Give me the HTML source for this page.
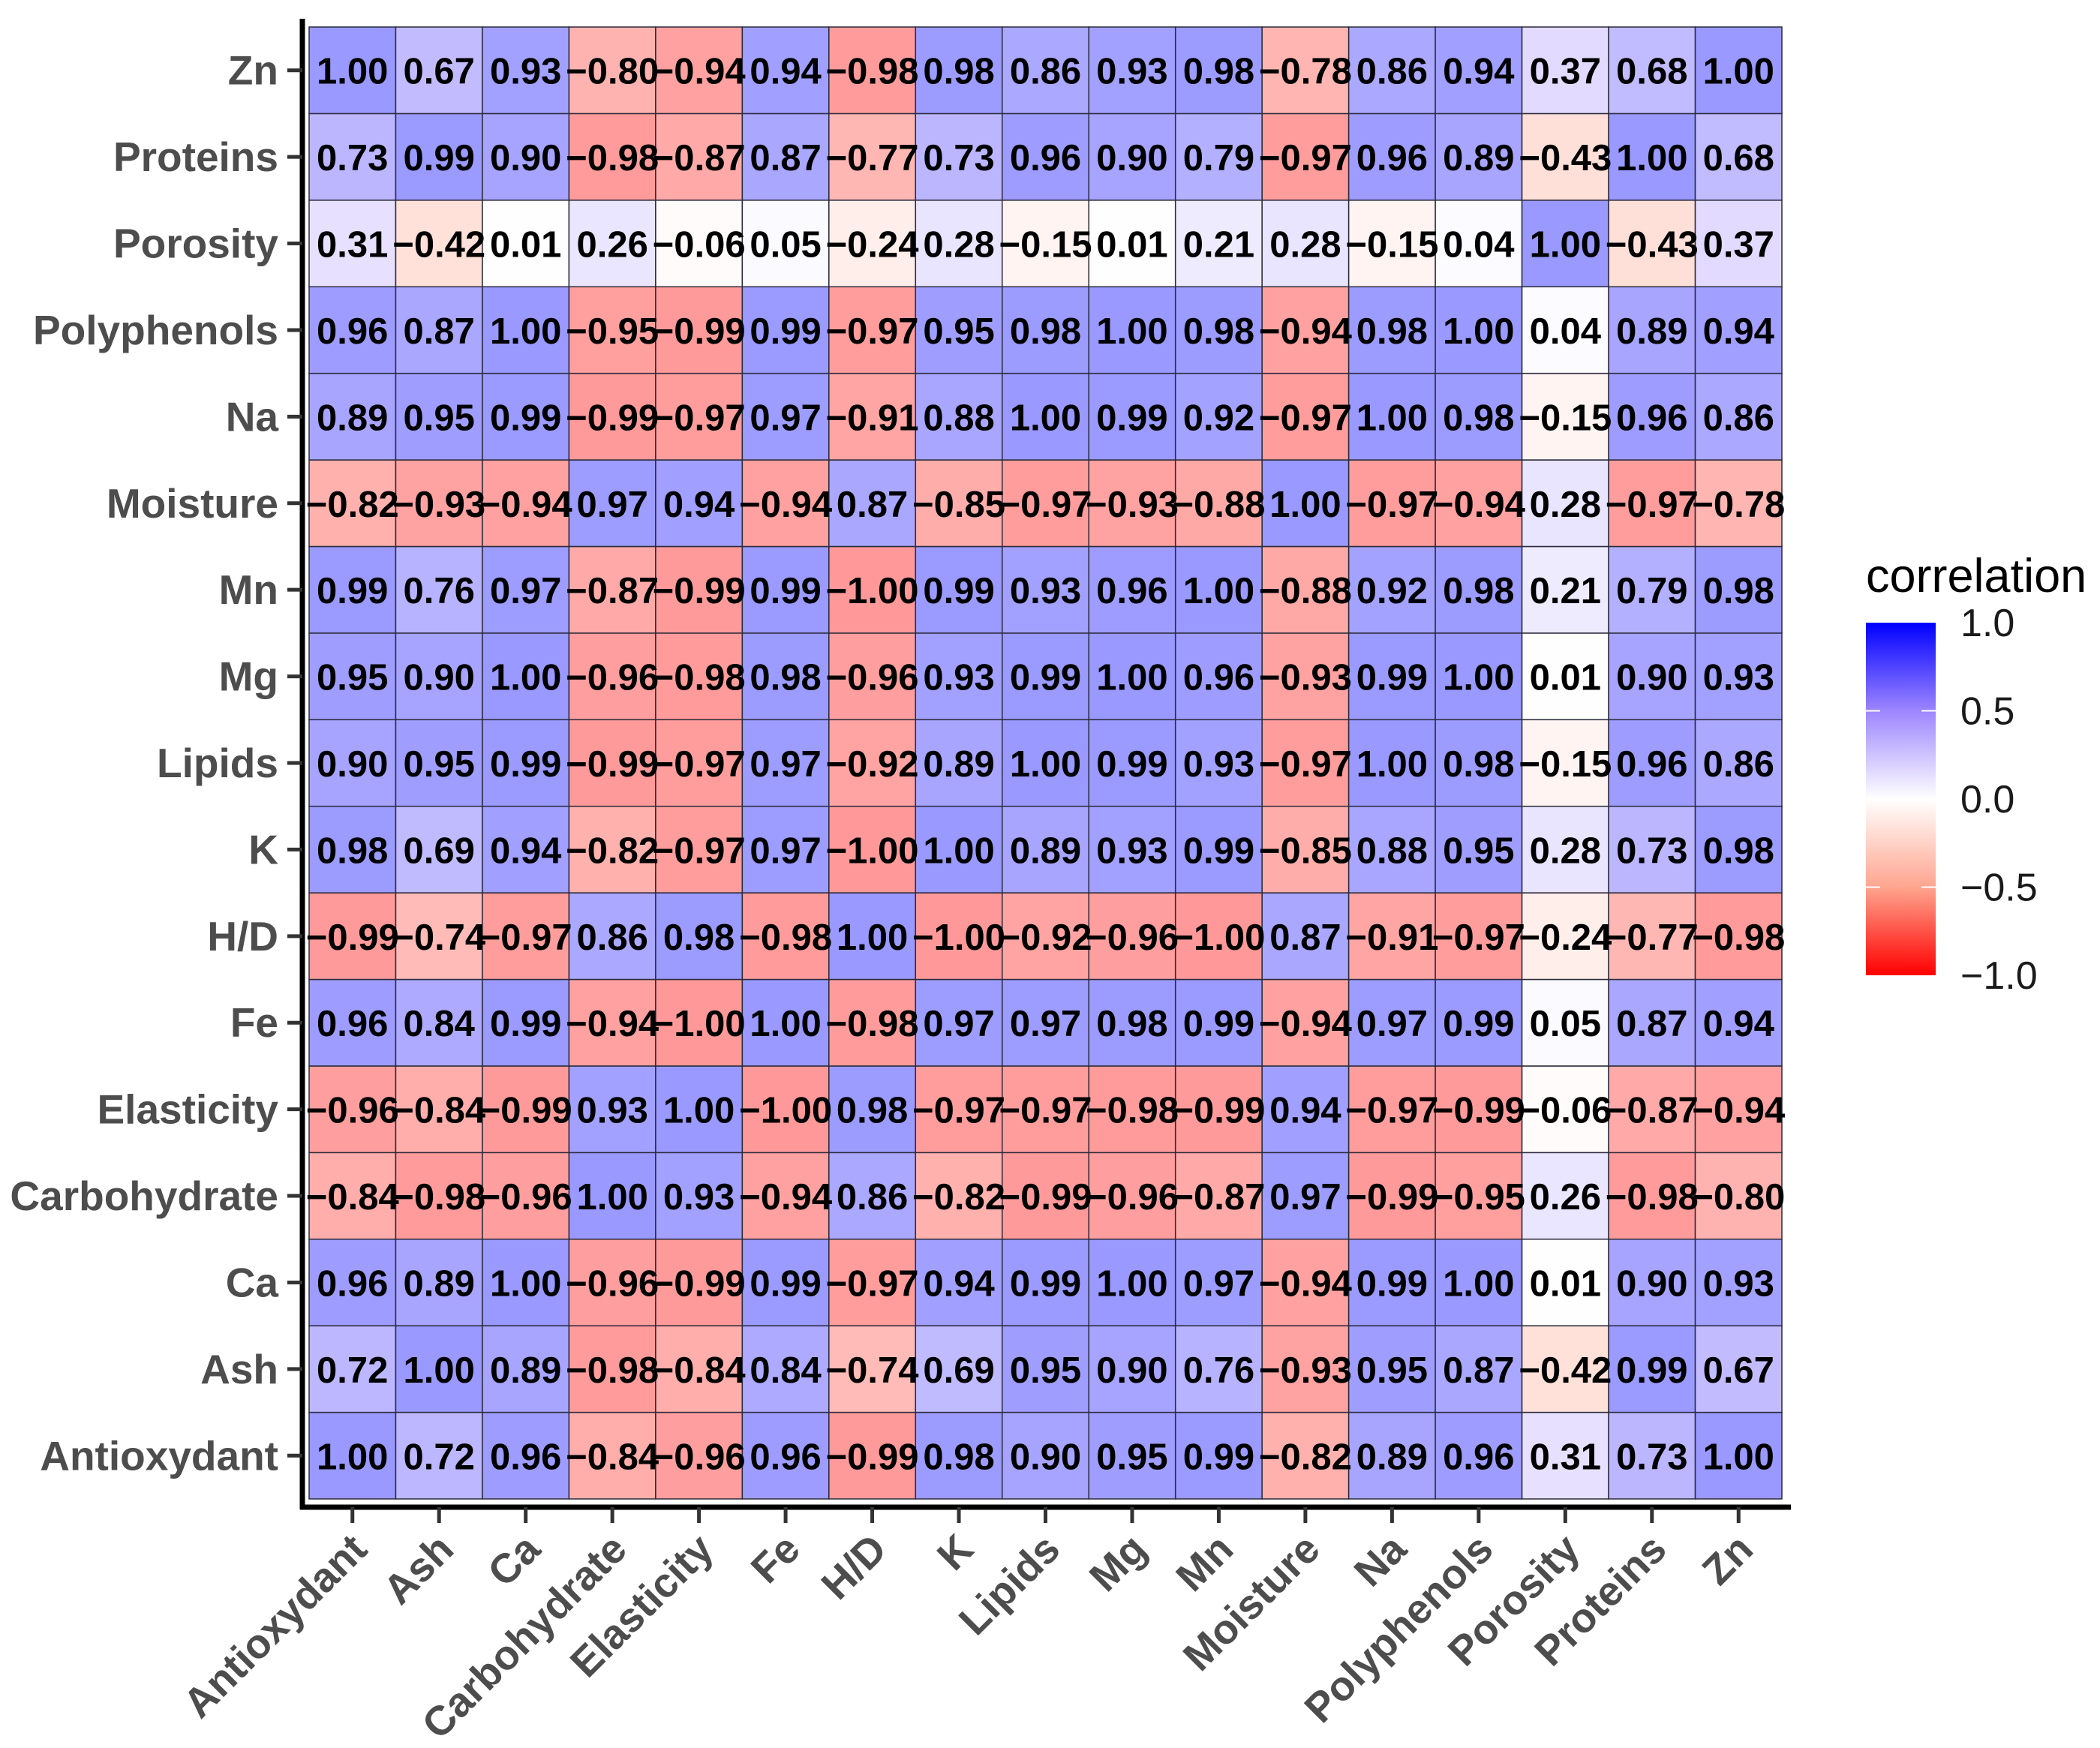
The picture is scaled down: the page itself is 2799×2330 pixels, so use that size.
<!DOCTYPE html>
<html><head><meta charset="utf-8"><style>html,body{margin:0;padding:0;background:#fff}svg{display:block}</style></head>
<body>
<svg id="chart" width="2799" height="2330" viewBox="0 0 2799 2330" xmlns="http://www.w3.org/2000/svg" font-family="'Liberation Sans', Arial, sans-serif">
<defs>
<linearGradient id="lg" x1="0" y1="0" x2="0" y2="1">
<stop offset="0" stop-color="#0000ff"/>
<stop offset="0.25" stop-color="#9d86ff"/>
<stop offset="0.5" stop-color="#ffffff"/>
<stop offset="0.75" stop-color="#ffa58f"/>
<stop offset="1" stop-color="#ff0000"/>
</linearGradient>
</defs>
<g id="cells"></g>
<g id="labels"></g>
<g id="axes"></g>
<g>
<text x="2487" y="789" font-size="63" fill="#000">correlation</text>
<rect x="2487" y="830" width="93" height="470" fill="url(#lg)"/>
<g id="legendTicks"></g>
</g>
</svg>
<script>
const vars = ["Antioxydant","Ash","Ca","Carbohydrate","Elasticity","Fe","H/D","K","Lipids","Mg","Mn","Moisture","Na","Polyphenols","Porosity","Proteins","Zn"];
// rows listed bottom (Antioxydant) to top (Zn); columns Antioxydant..Zn
const rAntioxydant = [1.00,0.72,0.96,-0.84,-0.96,0.96,-0.99,0.98,0.90,0.95,0.99,-0.82,0.89,0.96,0.31,0.73,1.00];
const rAsh = [0.72,1.00,0.89,-0.98,-0.84,0.84,-0.74,0.69,0.95,0.90,0.76,-0.93,0.95,0.87,-0.42,0.99,0.67];
const rCa = [0.96,0.89,1.00,-0.96,-0.99,0.99,-0.97,0.94,0.99,1.00,0.97,-0.94,0.99,1.00,0.01,0.90,0.93];
const rCarbohydrate = [-0.84,-0.98,-0.96,1.00,0.93,-0.94,0.86,-0.82,-0.99,-0.96,-0.87,0.97,-0.99,-0.95,0.26,-0.98,-0.80];
const rElasticity = [-0.96,-0.84,-0.99,0.93,1.00,-1.00,0.98,-0.97,-0.97,-0.98,-0.99,0.94,-0.97,-0.99,-0.06,-0.87,-0.94];
const rFe = [0.96,0.84,0.99,-0.94,-1.00,1.00,-0.98,0.97,0.97,0.98,0.99,-0.94,0.97,0.99,0.05,0.87,0.94];
const rHD = [-0.99,-0.74,-0.97,0.86,0.98,-0.98,1.00,-1.00,-0.92,-0.96,-1.00,0.87,-0.91,-0.97,-0.24,-0.77,-0.98];
const rK = [0.98,0.69,0.94,-0.82,-0.97,0.97,-1.00,1.00,0.89,0.93,0.99,-0.85,0.88,0.95,0.28,0.73,0.98];
const rLipids = [0.90,0.95,0.99,-0.99,-0.97,0.97,-0.92,0.89,1.00,0.99,0.93,-0.97,1.00,0.98,-0.15,0.96,0.86];
const rMg = [0.95,0.90,1.00,-0.96,-0.98,0.98,-0.96,0.93,0.99,1.00,0.96,-0.93,0.99,1.00,0.01,0.90,0.93];
const rMn = [0.99,0.76,0.97,-0.87,-0.99,0.99,-1.00,0.99,0.93,0.96,1.00,-0.88,0.92,0.98,0.21,0.79,0.98];
const rMoisture = [-0.82,-0.93,-0.94,0.97,0.94,-0.94,0.87,-0.85,-0.97,-0.93,-0.88,1.00,-0.97,-0.94,0.28,-0.97,-0.78];
const rNa = [0.89,0.95,0.99,-0.99,-0.97,0.97,-0.91,0.88,1.00,0.99,0.92,-0.97,1.00,0.98,-0.15,0.96,0.86];
const rPolyphenols = [0.96,0.87,1.00,-0.95,-0.99,0.99,-0.97,0.95,0.98,1.00,0.98,-0.94,0.98,1.00,0.04,0.89,0.94];
const rPorosity = [0.31,-0.42,0.01,0.26,-0.06,0.05,-0.24,0.28,-0.15,0.01,0.21,0.28,-0.15,0.04,1.00,-0.43,0.37];
const rProteins = [0.73,0.99,0.90,-0.98,-0.87,0.87,-0.77,0.73,0.96,0.90,0.79,-0.97,0.96,0.89,-0.43,1.00,0.68];
const rZn = [1.00,0.67,0.93,-0.80,-0.94,0.94,-0.98,0.98,0.86,0.93,0.98,-0.78,0.86,0.94,0.37,0.68,1.00];
const matrix = [rAntioxydant,rAsh,rCa,rCarbohydrate,rElasticity,rFe,rHD,rK,rLipids,rMg,rMn,rMoisture,rNa,rPolyphenols,rPorosity,rProteins,rZn];
const legendTicks = [1.0,0.5,0.0,-0.5,-1.0];

const NS="http://www.w3.org/2000/svg";
const L=412,R=2375,T=36,B=1998;
const n=vars.length, cw=(R-L)/n, ch=(B-T)/n;
const xPos=i=>L+i*cw;
const yPos=j=>B-(j+1)*ch;
const legY=v=>1065-v*235;
function mk(tag,attrs,parent){const e=document.createElementNS(NS,tag);for(const k in attrs)e.setAttribute(k,attrs[k]);parent.appendChild(e);return e;}
function lerp(a,b,t){return a.map((x,i)=>x+(b[i]-x)*t);}
function colorFor(v){
  const stops=[[-1,[255,0,0]],[-0.5,[255,165,143]],[0,[255,255,255]],[0.5,[157,134,255]],[1,[0,0,255]]];
  let c=stops[0][1];
  for(let k=0;k<4;k++){const a=stops[k],b=stops[k+1];if(v>=a[0]&&v<=b[0]){c=lerp(a[1],b[1],(v-a[0])/(b[0]-a[0]));break;}}
  c=c.map(x=>Math.round(0.4*x+0.6*255));
  return `rgb(${c[0]},${c[1]},${c[2]})`;
}
const cells=document.getElementById('cells'),labels=document.getElementById('labels'),axes=document.getElementById('axes');
for(let j=0;j<n;j++){for(let i=0;i<n;i++){
  const v=matrix[j][i];
  const r=mk('rect',{x:xPos(i),y:yPos(j),width:cw,height:ch,fill:colorFor(v),stroke:'#2a2a3a','stroke-width':1.5},cells);
  
  
  const t=mk('text',{x:xPos(i)+cw/2,y:yPos(j)+ch/2+18,'text-anchor':'middle','font-size':49,'font-weight':'bold',fill:'#000'},labels);
  t.textContent=(v<0?'\u2212':'')+Math.abs(v).toFixed(2);
  
  
}}
let a=mk('line',{x1:403,y1:25,x2:403,y2:2012,stroke:'#000','stroke-width':7},axes);


a=mk('line',{x1:400,y1:2009,x2:2387,y2:2009,stroke:'#000','stroke-width':7},axes);


for(let k=0;k<n;k++){
  const cy=yPos(k)+ch/2;
  let tk=mk('line',{x1:383,y1:cy,x2:403,y2:cy,stroke:'#333','stroke-width':5},axes);
  
  
  let t=mk('text',{x:371,y:cy+19,'text-anchor':'end','font-size':55,'font-weight':'bold',fill:'#4d4d4d'},axes);
  t.textContent=vars[k];
  
  
  const cx=xPos(k)+cw/2;
  tk=mk('line',{x1:cx,y1:2009,x2:cx,y2:2030,stroke:'#333','stroke-width':5},axes);
  
  
  t=mk('text',{transform:`translate(${cx-6},${2040}) rotate(-45)`,'text-anchor':'end',dy:40,'font-size':55,'font-weight':'bold',fill:'#4d4d4d'},axes);
  t.textContent=vars[k];
  
  
}
const lt=document.getElementById('legendTicks');
legendTicks.forEach(v=>{
  if(Math.abs(v)===0.5){
    let m=mk('line',{x1:2487,y1:legY(v),x2:2506,y2:legY(v),stroke:'#fff','stroke-width':2},lt);
    
    
    m=mk('line',{x1:2561,y1:legY(v),x2:2580,y2:legY(v),stroke:'#fff','stroke-width':2},lt);
    
    
  }
  const t=mk('text',{x:2613,y:legY(v)+18,'font-size':52,fill:'#1a1a1a'},lt);
  t.textContent=(v<0?'\u2212':'')+Math.abs(v).toFixed(1);
  
  
});
</script>
</body></html>
